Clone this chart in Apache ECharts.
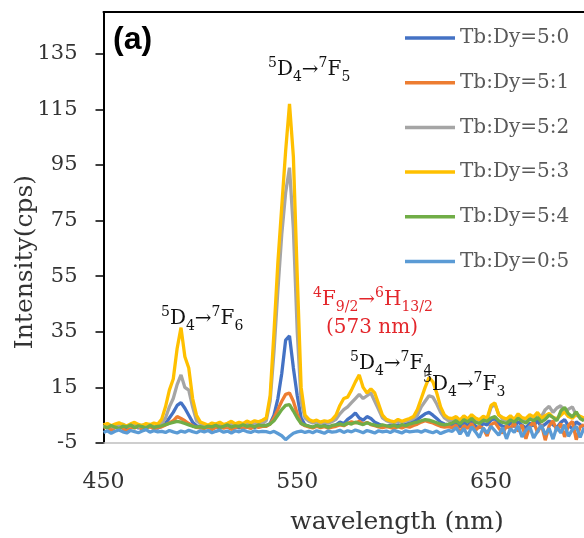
<!DOCTYPE html>
<html>
<head>
<meta charset="utf-8">
<script src="https://cdn.jsdelivr.net/npm/echarts@6/dist/echarts.min.js"></script>
<style>html,body{margin:0;padding:0;background:#fff;}#c{width:584px;height:538px;}</style>
</head>
<body>
<div id="c"></div>
<script>
// wavelength (nm)
var wavelength = [450,452,454,456,458,460,462,464,466,468,470,472,474,476,478,
480,482,484,486,488,490,492,494,496,498,500,
502,504,506,508,510,512,514,516,518,520,522,524,526,528,530,532,
534,536,538,540,542,544,546,548,550,552,554,
556,558,560,562,564,566,568,
570,572,574,576,578,580,582,584,586,588,590,592,594,596,
598,600,602,604,606,608,610,
612,614,616,618,620,622,624,626,628,
630,632,634,636,638,640,642,644,646,648,650,652,654,656,658,660,662,664,666,668,670,672,674,676,678,680,682,684,686,688,690,692,694,696,698];

var seriesNames = ['Tb:Dy=5:0','Tb:Dy=5:1','Tb:Dy=5:2','Tb:Dy=5:3','Tb:Dy=5:4','Tb:Dy=0:5'];

var tb50 = [0.5,1.0,0.3,0.8,1.2,0.6,0.2,0.9,1.1,0.4,0.8,0.5,1.0,0.7,0.3,
1,2,4,6,8.5,9.5,7.5,5,2.5,1.2,0.8,
0.6,1.0,0.4,0.9,0.3,0.8,1.1,0.5,0.9,0.4,1.2,0.7,1.0,0.6,1.3,1.0,
1.2,2,5,11,20,32,33.5,22,12,4,1.5,
1.0,0.6,1.2,0.8,1.4,0.9,1.1,
1.5,2.5,2.0,3.5,4.5,5.8,4.0,3.2,4.5,3.8,2.5,1.8,1.2,1.0,
1.3,0.8,1.5,1.1,1.7,2.2,2.8,
3.5,4.5,5.5,6.0,5.0,3.8,2.5,1.8,1.5,
1.4,2.2,0.8,2.5,1.2,2.8,1.0,0.5,2.0,1.5,3.2,3.8,2.0,1.0,0.6,2.3,0.9,2.6,1.4,0.4,2.1,1.2,3.0,0.8,1.8,2.9,1.5,0.6,2.4,3.4,1.2,0.3,2.6,1.6,0.8];

var tb51 = [0.3,0.9,-0.5,0.6,1.0,0.2,-0.8,0.7,0.4,1.1,-0.3,0.5,0.8,0.1,0.6,
0.8,1.5,2.2,3.0,4.5,3.8,3.0,2.0,1.2,0.6,0.4,
0.2,0.8,-0.2,0.6,0.9,0.3,0.7,-0.1,0.5,1.0,0.4,0.8,0.2,1.1,0.6,1.0,
1.0,1.8,4,7,10,12.5,13,10,5.5,2,1.2,
0.8,0.4,1.0,0.5,0.9,0.3,0.7,
1.0,1.5,1.2,2.0,2.6,2.2,2.8,1.8,2.4,1.6,1.2,0.8,0.5,0.9,
0.6,0.2,0.9,0.4,1.0,0.7,1.3,
1.8,2.5,3.0,2.6,2.2,1.6,1.0,0.7,0.9,
0.5,1.4,-1.0,1.2,0.3,2.0,-0.5,1.0,0.2,-2.5,1.6,2.4,0.4,-1.5,1.0,0.3,2.2,-0.8,1.5,-3.5,0.9,2.6,-1.2,1.8,-4.0,1.1,3.0,-0.6,2.0,-2.8,1.4,2.8,-3.8,0.8,1.6];

var tb52 = [0.8,1.5,1.0,0.6,1.3,1.8,0.9,1.2,1.6,0.7,1.4,1.1,1.7,0.9,1.3,
2,4,8,11,16,19.5,15,14,8,3,2,
1.6,1.0,1.8,1.3,2.0,1.5,1.2,1.9,1.6,2.2,1.4,1.8,2.3,1.7,2.5,2.0,
3,10,28,50,70,85,94,72,35,10,4,
2.8,2.2,2.6,2.0,2.4,2.1,2.7,
3.5,5.5,7,8,9.5,11,12.5,11,12,13,10,7,4,3,
2.5,2.2,2.8,2.4,2.9,3.2,3.8,
5,8,10,12,11.5,9,6,4,3,
3.2,3.8,2.7,4.1,3.0,4.4,3.5,2.9,4.0,3.3,7.8,9.0,5.2,3.6,3.1,4.2,3.0,4.8,3.6,3.3,4.5,3.8,5.5,4.4,7.0,8.2,6.0,7.6,8.4,5.8,7.2,8.0,5.0,4.2,3.6];

var tb53 = [1.5,2.0,1.2,1.8,2.3,1.6,1.1,1.9,2.4,1.7,1.3,2.0,1.6,2.2,1.8,
3.5,8,14,18,29,36.5,26,22,11,5,2.5,
2.0,1.4,2.2,1.8,2.5,1.6,2.1,2.8,1.9,2.4,2.0,2.9,2.3,3.0,2.6,3.2,
4,12,35,60,80,100,117,98,55,15,5,
3.5,2.8,3.2,2.5,3.0,2.7,3.4,
5,8.5,11,11.5,14,17,19.5,15,13,14.5,13,9,5,3.5,
3.0,2.6,3.5,2.8,3.3,3.8,4.5,
7,11,15,18.5,17,13,8,5,4,
3.8,4.5,3.2,4.8,3.6,5.2,4.0,3.4,4.6,3.9,8.5,9.4,5.0,4.2,3.6,4.8,3.5,5.5,4.1,3.8,5.2,4.4,6.0,3.9,4.8,5.6,4.2,3.7,5.0,6.2,4.5,3.9,5.3,4.6,4.0];

var tb54 = [1.0,0.4,1.3,0.7,0.2,1.1,0.8,1.5,0.5,1.2,0.9,0.3,1.4,0.6,1.0,
1.2,1.6,2.0,2.4,2.8,2.5,2.0,1.5,1.0,0.7,0.9,
0.5,1.1,0.8,1.4,0.6,1.0,1.5,0.7,1.2,0.9,1.6,1.0,1.3,0.8,1.5,1.2,
1.3,1.8,3,5,7,8.5,8.8,6.5,4,2,1.4,
1.1,0.7,1.4,0.9,1.2,0.6,1.3,
1.5,1.9,1.4,2.2,1.8,2.5,2.0,1.6,2.3,1.8,1.4,1.1,1.5,1.2,
1.0,1.4,0.8,1.6,1.2,1.8,2.2,
2.5,3.0,3.4,3.2,2.8,2.3,1.8,1.5,1.8,
2.2,3.0,1.8,3.4,2.6,3.8,2.4,2.0,3.2,2.8,4.0,4.5,3.0,2.4,2.0,3.3,2.5,3.9,2.8,2.2,3.6,3.0,4.2,2.6,3.5,5.0,4.2,3.0,6.5,7.8,5.5,4.4,6.2,3.8,3.0];

var tb05 = [-1.2,-0.6,-1.5,-0.8,-0.3,-1.0,-1.4,-0.5,-0.9,-1.3,-0.7,-0.2,-1.1,-0.6,-1.0,
-0.8,-1.2,-0.5,-1.0,-1.4,-0.7,-1.1,-0.4,-0.9,-1.3,-0.6,
-1.0,-0.5,-1.3,-0.8,-0.4,-1.1,-0.7,-1.4,-0.6,-1.0,-0.3,-0.9,-1.2,-0.6,-1.0,-0.8,
-0.9,-1.3,-0.8,-1.6,-2.4,-3.8,-2.6,-1.5,-1.0,-0.7,-1.2,
-0.8,-1.3,-0.6,-1.0,-1.5,-0.7,-1.1,
-0.9,-0.4,-1.2,-0.6,-1.0,-0.3,-0.8,-1.3,-0.5,-0.9,-1.4,-0.6,-1.0,-0.7,
-1.2,-0.5,-0.9,-1.4,-0.6,-1.0,-0.8,
-0.6,-1.1,-0.4,-0.9,-1.3,-0.7,-1.6,-1.0,-0.5,
-0.8,0.5,-1.8,0.2,-2.5,0.8,-1.0,-3.0,0.4,-1.5,1.0,-0.6,-2.2,0.6,-3.5,0.2,-1.2,1.2,-2.8,-0.4,0.9,-3.2,-0.8,1.4,-2.0,0.3,-3.6,0.8,-1.4,1.6,-2.6,-0.2,1.0,-3.0,0.4];

var seriesValues = [tb50, tb51, tb52, tb53, tb54, tb05];
var seriesColors = ['#4472C4','#ED7D31','#A5A5A5','#FFC000','#70AD47','#5B9BD5'];

var yTicks = {min: -5, max: 150, interval: 20};
var xTicks = {min: 450, max: 698, interval: 100};

function pairs(vals){
  var out = [];
  for (var i = 0; i < wavelength.length; i++) out.push([wavelength[i], vals[i]]);
  return out;
}

var chart = echarts.init(document.getElementById('c'), null, {renderer: 'canvas'});
var serif = 'DejaVu Serif';

var series = seriesNames.map(function(n, k){
  return {
    name: n, type: 'line', data: pairs(seriesValues[k]),
    showSymbol: false, symbol: 'none', smooth: false,
    lineStyle: {width: 3.3, color: seriesColors[k]},
    itemStyle: {color: seriesColors[k]},
    animation: false
  };
});

var richStyle = {
  n: {fontSize: 20, fontFamily: serif, lineHeight: 28, verticalAlign: 'middle'},
  sup: {fontSize: 14, fontFamily: serif, lineHeight: 16, verticalAlign: 'top'},
  sub: {fontSize: 14, fontFamily: serif, lineHeight: 16, verticalAlign: 'bottom'}
};
function label(x, y, text, color){
  return {type: 'text', left: x, top: y, z: 100,
    style: {text: text, fill: color || '#111', font: '20px ' + serif, rich: richStyle}};
}

chart.setOption({
  animation: false,
  grid: {left: 103.5, right: 0, top: 12, bottom: 95, containLabel: false},
  legend: {
    orient: 'vertical', left: 405, top: 28, padding: 0,
    icon: 'rect', itemWidth: 50, itemHeight: 3.5, itemGap: 24.7,
    textStyle: {fontFamily: serif, fontSize: 20, color: '#595959', lineHeight: 20},
    data: seriesNames
  },
  xAxis: [{
    type: 'value', min: xTicks.min, max: xTicks.max, interval: xTicks.interval,
    axisLine: {show: true, onZero: false, lineStyle: {color: '#BFBFBF', width: 1.5}},
    axisTick: {show: false}, splitLine: {show: false},
    axisLabel: {showMaxLabel: false, margin: 28, fontFamily: serif, fontSize: 22, color: '#333'}
  }, {
    type: 'value', position: 'top', min: xTicks.min, max: xTicks.max,
    axisLine: {show: true, onZero: false, lineStyle: {color: '#000', width: 2}},
    axisTick: {show: false}, axisLabel: {show: false}, splitLine: {show: false}
  }],
  yAxis: {
    type: 'value', min: yTicks.min, max: yTicks.max, interval: yTicks.interval,
    axisLine: {show: true, onZero: false, lineStyle: {color: '#000', width: 2}},
    axisTick: {show: true, inside: false, length: 8, lineStyle: {color: '#000', width: 1.5}},
    splitLine: {show: false},
    axisLabel: {showMaxLabel: false, margin: 26, fontFamily: serif, fontSize: 21, color: '#333'}
  },
  series: series,
  graphic: [
    {type: 'text', left: 113, top: 24, z: 100,
      style: {text: '(a)', fill: '#000', font: 'bold 32px "Liberation Sans", Arial, sans-serif'}},
    {type: 'text', x: 25, y: 262, rotation: Math.PI / 2, z: 100,
      style: {text: 'Intensity(cps)', fill: '#333', font: '25px ' + serif, textAlign: 'center', textVerticalAlign: 'middle'}},
    {type: 'text', x: 397, y: 522, z: 100,
      style: {text: 'wavelength (nm)', fill: '#333', font: '25px ' + serif, textAlign: 'center', textVerticalAlign: 'middle'}},
    label(268, 56, '{sup|5}{n|D}{sub|4}{n|→}{sup|7}{n|F}{sub|5}'),
    label(161, 305, '{sup|5}{n|D}{sub|4}{n|→}{sup|7}{n|F}{sub|6}'),
    label(313, 286, '{sup|4}{n|F}{sub|9/2}{n|→}{sup|6}{n|H}{sub|13/2}', '#E3262B'),
    {type: 'text', left: 326, top: 318, z: 100,
      style: {text: '(573 nm)', fill: '#E3262B', font: '20px ' + serif}},
    label(350, 350, '{sup|5}{n|D}{sub|4}{n|→}{sup|7}{n|F}{sub|4}'),
    label(423, 371, '{sup|5}{n|D}{sub|4}{n|→}{sup|7}{n|F}{sub|3}')
  ]
});
</script>
</body>
</html>
